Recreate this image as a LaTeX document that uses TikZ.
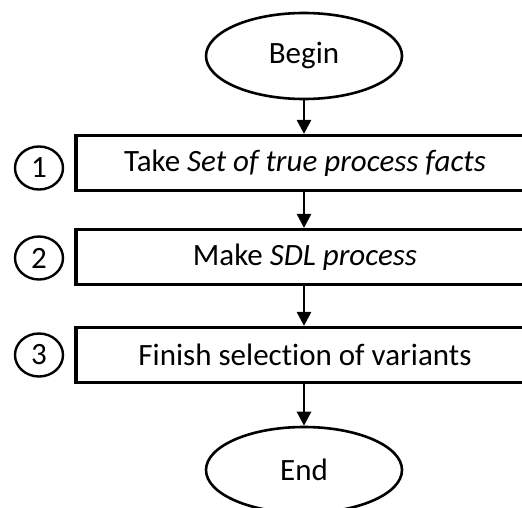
\documentclass[tikz,border=0pt]{standalone}
\usepackage{fontspec}
\setmainfont[Ligatures=NoCommon]{Carlito}
\usetikzlibrary{shapes.geometric,arrows.meta}
\begin{document}
\begin{tikzpicture}[x=1pt,y=-1pt,
  every node/.style={font=\fontsize{31}{36}\selectfont, inner sep=0pt},
  terminal/.style={draw, ellipse, line width=2.6pt, minimum width=196pt, minimum height=86pt},
  stepbox/.style={draw, rectangle, line width=3.2pt, minimum width=458pt, minimum height=55pt},
  marker/.style={draw, ellipse, line width=2.4pt, minimum width=48pt, minimum height=43pt},
  flow/.style={line width=2.8pt, -{Triangle[width=14pt,length=14pt]}}]
\useasboundingbox (0,0) rectangle (522,508);
\clip (0,0) rectangle (522,508);
\fill[white] (0,0) rectangle (522,508);

\node[terminal] (begin) at (304,56) {Begin};
\node[stepbox] (s1) at (305,163) {Take \textit{Set of true process facts}};
\node[stepbox] (s2) at (305,257) {Make \textit{SDL process}};
\node[stepbox] (s3) at (305,355) {Finish selection of variants};
\node[terminal] (end) at (304,470) {End};

\node[marker] (m1) at (39,168) {1};
\node[marker] (m2) at (39,258) {2};
\node[marker] (m3) at (39,355) {3};

\draw[flow] (begin.south) -- (begin.south |- s1.north);
\draw[flow] (begin.south |- s1.south) -- (begin.south |- s2.north);
\draw[flow] (begin.south |- s2.south) -- (begin.south |- s3.north);
\draw[flow] (begin.south |- s3.south) -- (end.north);
\end{tikzpicture}
\end{document}
